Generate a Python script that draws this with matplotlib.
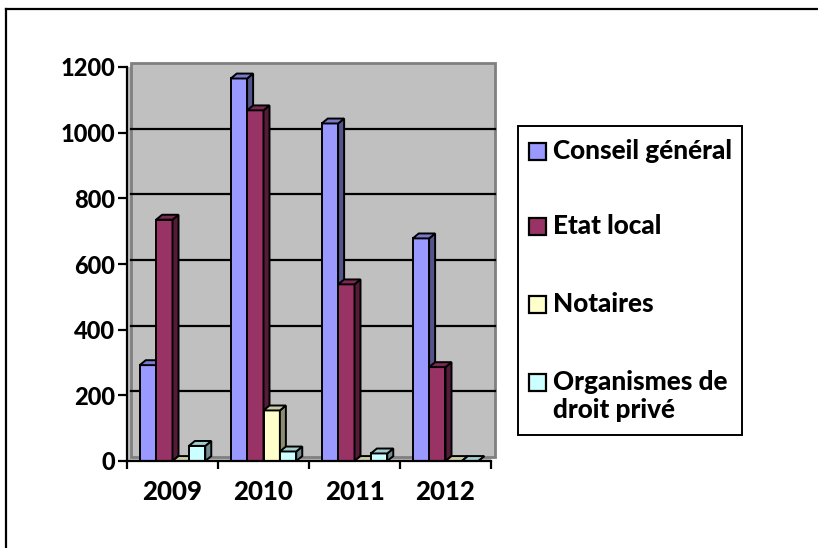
import matplotlib
matplotlib.use("Agg")
import matplotlib.pyplot as plt
import matplotlib.transforms as mtransforms
from matplotlib.patches import Rectangle, Polygon
from matplotlib.lines import Line2D
import numpy as np


years = ["2009", "2010", "2011", "2012"]

series_names = [
    "Conseil général",
    "Etat local",
    "Notaires",
    "Organismes de\ndroit privé",
]

conseil_general = [292, 1165, 1028, 678]
etat_local = [735, 1068, 538, 286]
notaires = [0, 154, 0, 0]
organismes = [46, 29, 23, 0]

series_values = [conseil_general, etat_local, notaires, organismes]

colors = ["#9999FF", "#993366", "#FFFFCC", "#CCFFFF"]

y_ticks = [0, 200, 400, 600, 800, 1000, 1200]

W, H = 818, 548
FONT = "Lato"
FW = "black"
FS = 17


def fx(px):
    return px / W


def fy(py):
    return 1 - py / H


def shade(color, k):
    rgb = np.array(matplotlib.colors.to_rgb(color))
    return tuple(rgb * k)


fig = plt.figure(figsize=(W / 100, H / 100), dpi=100)

# outer frame (only top and left edges are visible)
fig.add_artist(Line2D([fx(5.5), 1.0], [fy(8.5), fy(8.5)],
                      color="black", lw=1.6, transform=fig.transFigure))
fig.add_artist(Line2D([fx(5.5), fx(5.5)], [fy(8.5), 0.0],
                      color="black", lw=1.6, transform=fig.transFigure))

ax = fig.add_axes([fx(127), 1 - 461 / H, 364 / W, 394 / H])
ax.set_xlim(-0.5, 3.5)
ax.set_ylim(0, 1200)
ax.set_facecolor("#C0C0C0")

# back wall shifted by the depth
wall_off = mtransforms.ScaledTranslation(4 / 100, 4 / 100, fig.dpi_scale_trans)
ax.add_patch(Rectangle((0, 0), 1, 1, transform=ax.transAxes + wall_off,
                       facecolor="#C0C0C0", edgecolor="#808080", lw=2,
                       clip_on=False, zorder=0))

# gridlines on the back wall
for v in y_ticks[1:-1]:
    ax.plot([-0.5, 3.5], [v, v], color="black", lw=1.6,
            transform=ax.transData + wall_off, clip_on=False, zorder=1)

# 3D-looking columns
bar_w = 0.18
dx = 0.066
dy = 15
x = np.arange(len(years))
z = 2
for c in range(len(years)):
    for i, vals in enumerate(series_values):
        h = vals[c]
        x0 = x[c] + (i - 2) * bar_w
        col = colors[i]
        ax.add_patch(Rectangle((x0, 0), bar_w, h, facecolor=col,
                               edgecolor="black", lw=1.4, zorder=z,
                               clip_on=False))
        ax.add_patch(Polygon([(x0 + bar_w, 0), (x0 + bar_w + dx, dy),
                              (x0 + bar_w + dx, h + dy), (x0 + bar_w, h)],
                             closed=True, facecolor=shade(col, 0.55),
                             edgecolor="black", lw=1.4, zorder=z,
                             clip_on=False))
        ax.add_patch(Polygon([(x0, h), (x0 + dx, h + dy),
                              (x0 + bar_w + dx, h + dy), (x0 + bar_w, h)],
                             closed=True, facecolor=shade(col, 0.8),
                             edgecolor="black", lw=1.4, zorder=z,
                             clip_on=False))
        z += 1

for s in ["top", "right"]:
    ax.spines[s].set_visible(False)
for s in ["left", "bottom"]:
    ax.spines[s].set_linewidth(1.6)
    ax.spines[s].set_zorder(50)

ax.set_yticks(y_ticks)
ax.set_yticklabels([str(v) for v in y_ticks], fontfamily=FONT,
                   fontweight=FW, fontsize=FS)
ax.tick_params(axis="y", direction="out", length=6.5, width=1.6, pad=2)

ax.set_xticks(x)
ax.set_xticklabels(years, fontfamily=FONT, fontweight=FW, fontsize=FS + 1.5)
ax.set_xticks(np.arange(-0.5, 4.0, 1.0), minor=True)
ax.tick_params(axis="x", which="major", length=0, pad=14)
ax.tick_params(axis="x", which="minor", direction="out", length=5.5,
               width=1.6)

# legend box
fig.add_artist(Rectangle((fx(518), fy(435)), fx(742) - fx(518),
                         fy(126) - fy(435), transform=fig.transFigure,
                         facecolor="white", edgecolor="black", lw=1.4))
row_y = [152, 227, 305, 383]
for i, name in enumerate(series_names):
    yc = row_y[i]
    fig.add_artist(Rectangle((fx(529), fy(yc + 8)), 17 / W, 17 / H,
                             transform=fig.transFigure, facecolor=colors[i],
                             edgecolor="black", lw=1.6))
    fig.text(fx(553), fy(yc - 13), name, ha="left", va="top",
             fontfamily=FONT, fontweight=FW, fontsize=FS + 1.8,
             linespacing=1.2)

fig.savefig("out.png", dpi=100)
